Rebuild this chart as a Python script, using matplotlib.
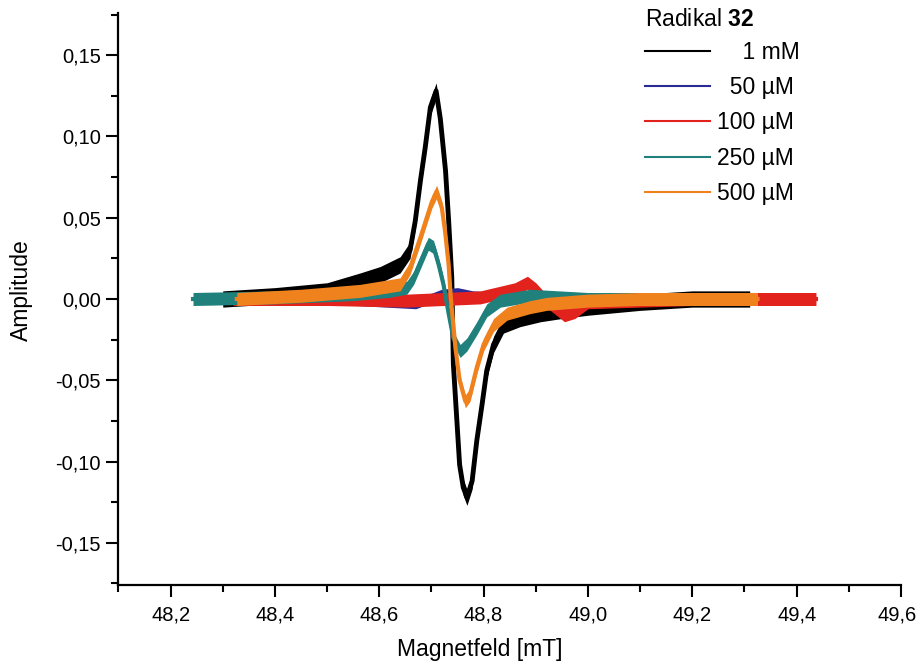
import numpy as np
import matplotlib
matplotlib.use("Agg")
import matplotlib.pyplot as plt
from matplotlib.ticker import MultipleLocator, FuncFormatter

plt.rcParams['font.family'] = ['Liberation Sans', 'DejaVu Sans']
plt.rcParams['mathtext.fontset'] = 'custom'
plt.rcParams['mathtext.rm'] = 'Liberation Sans'
plt.rcParams['mathtext.bf'] = 'Liberation Sans:bold'

# EPR spectra, key points (field in mT, amplitude)
x_1mM = [48.30, 48.40, 48.50, 48.563, 48.602, 48.640, 48.659, 48.669, 48.679,
         48.688, 48.698, 48.709, 48.717, 48.727, 48.733, 48.739, 48.742, 48.748,
         48.754, 48.761, 48.768, 48.778, 48.787, 48.797, 48.806, 48.819, 48.838,
         48.87, 48.909, 48.95, 49.00, 49.10, 49.20, 49.31]
y_1mM = [0.000, 0.002, 0.005, 0.011, 0.015, 0.021, 0.030, 0.048, 0.073,
         0.093, 0.118, 0.128, 0.111, 0.079, 0.048, 0.013, -0.040, -0.071,
         -0.102, -0.116, -0.122, -0.112, -0.087, -0.065, -0.044, -0.028, -0.016,
         -0.012, -0.009, -0.007, -0.005, -0.002, 0.000, 0.000]

x_50uM = [48.32, 48.50, 48.67, 48.72, 48.75, 48.78, 48.90, 49.10, 49.30]
y_50uM = [0.000, 0.000, -0.003, 0.003, 0.004, 0.002, 0.000, 0.000, 0.000]

x_100uM = [48.32, 48.50, 48.653, 48.794, 48.86, 48.884, 48.90, 48.92, 48.955,
           48.975, 49.00, 49.20, 49.437]
y_100uM = [0.000, 0.000, -0.001, 0.001, 0.006, 0.010, 0.006, -0.001, -0.010,
           -0.008, -0.002, 0.000, 0.000]

x_250uM = [48.243, 48.40, 48.55, 48.62, 48.653, 48.666, 48.682, 48.694, 48.704,
           48.714, 48.723, 48.733, 48.742, 48.755, 48.768, 48.787, 48.806,
           48.832, 48.889, 49.00, 49.31]
y_250uM = [0.000, 0.001, 0.003, 0.005, 0.007, 0.013, 0.025, 0.034, 0.032,
           0.021, 0.009, -0.009, -0.024, -0.032, -0.028, -0.018, -0.007,
           -0.001, 0.002, 0.000, 0.000]

x_500uM = [48.327, 48.45, 48.563, 48.640, 48.659, 48.679, 48.691, 48.701, 48.710,
           48.720, 48.726, 48.733, 48.737, 48.746, 48.754, 48.765, 48.774,
           48.787, 48.800, 48.819, 48.845, 48.889, 48.921, 49.00, 49.10, 49.325]
y_500uM = [0.000, 0.002, 0.005, 0.009, 0.019, 0.038, 0.050, 0.060, 0.066,
           0.056, 0.042, 0.021, 0.001, -0.030, -0.050, -0.063, -0.059,
           -0.042, -0.028, -0.016, -0.009, -0.005, -0.003, -0.001, 0.000, 0.000]

# half width of the noise band of each trace
noise = {"1mM": 0.005, "50uM": 0.003, "100uM": 0.004, "250uM": 0.004, "500uM": 0.004}

labels = ["\u2007\u20071 mM", "\u200750 µM", "100 µM", "250 µM", "500 µM"]
colors = ["#000000", "#2a2a96", "#e2231d", "#1f807c", "#f0821e"]

series = [("1mM", x_1mM, y_1mM), ("50uM", x_50uM, y_50uM),
          ("100uM", x_100uM, y_100uM), ("250uM", x_250uM, y_250uM),
          ("500uM", x_500uM, y_500uM)]

fig = plt.figure(figsize=(9.18, 6.63), dpi=100)
ax = fig.add_axes([118.4 / 918, 78 / 663, (901 - 118.4) / 918, (585 - 13) / 663])

# draw order as in the picture: black, blue, teal, red, orange
order = [0, 1, 3, 2, 4]
lines = {}
for i in order:
    key, xs, ys = series[i]
    xs = np.array(xs)
    ys = np.array(ys)
    ax.fill_between(xs, ys - noise[key], ys + noise[key], color=colors[i], lw=0, zorder=2 + i * 0.1)
    ln, = ax.plot(xs, ys, color=colors[i], lw=3.5 if i == 0 else 3, zorder=2 + i * 0.1,
                  label=labels[i], solid_joinstyle='round')
    lines[i] = ln

ax.set_xlim(48.1, 49.6)
ax.set_ylim(-0.176, 0.176)
ax.xaxis.set_major_locator(MultipleLocator(0.2))
ax.xaxis.set_minor_locator(MultipleLocator(0.1))
ax.yaxis.set_major_locator(MultipleLocator(0.05))
ax.yaxis.set_minor_locator(MultipleLocator(0.025))


def xfmt(v, p):
    # the last label is drawn by hand below so it stays inside the picture
    if v > 49.55:
        return ""
    return f"{v:.1f}".replace('.', ',')


ax.xaxis.set_major_formatter(FuncFormatter(xfmt))
ax.yaxis.set_major_formatter(FuncFormatter(lambda v, p: f"{v:.2f}".replace('.', ',').replace('-0,00', '0,00')))

ax.spines['top'].set_visible(False)
ax.spines['right'].set_visible(False)
ax.spines['left'].set_linewidth(1.6)
ax.spines['bottom'].set_linewidth(1.6)
ax.tick_params(which='major', direction='out', length=8.5, width=1.5, labelsize=14.5)
ax.tick_params(axis='y', which='major', pad=4)
ax.tick_params(axis='x', which='major', pad=6)
ax.tick_params(which='minor', direction='out', length=5, width=1.5)

ax.annotate("49,6", xy=(49.6, 0), xycoords=('data', 'axes fraction'),
            xytext=(-3, -14.5), textcoords='offset points', ha='center', va='top',
            fontsize=14.5, annotation_clip=False)

ax.set_xlabel("Magnetfeld [mT]", fontsize=16.5)
ax.set_ylabel("Amplitude", fontsize=16.5)
ax.xaxis.set_label_coords(480 / 918, 2 / 663, transform=fig.transFigure)
ax.yaxis.set_label_coords(21 / 918, 1 - 290 / 663, transform=fig.transFigure)
ax.xaxis.label.set_va('bottom')
ax.yaxis.label.set_va('center')

fig.text(645 / 918, 1 - 26 / 663, "Radikal $\\mathbf{32}$", fontsize=16.5,
         ha='left', va='baseline')
leg = ax.legend([lines[i] for i in range(5)], labels,
                frameon=False, fontsize=16.5, loc='upper left',
                bbox_to_anchor=(631 / 918, 1 - 27 / 663), bbox_transform=fig.transFigure,
                handlelength=2.85, handletextpad=0.3, labelspacing=0.535, borderpad=0.1)
for l in leg.get_lines():
    l.set_linewidth(1.5)

fig.savefig("out.png", dpi=100)
